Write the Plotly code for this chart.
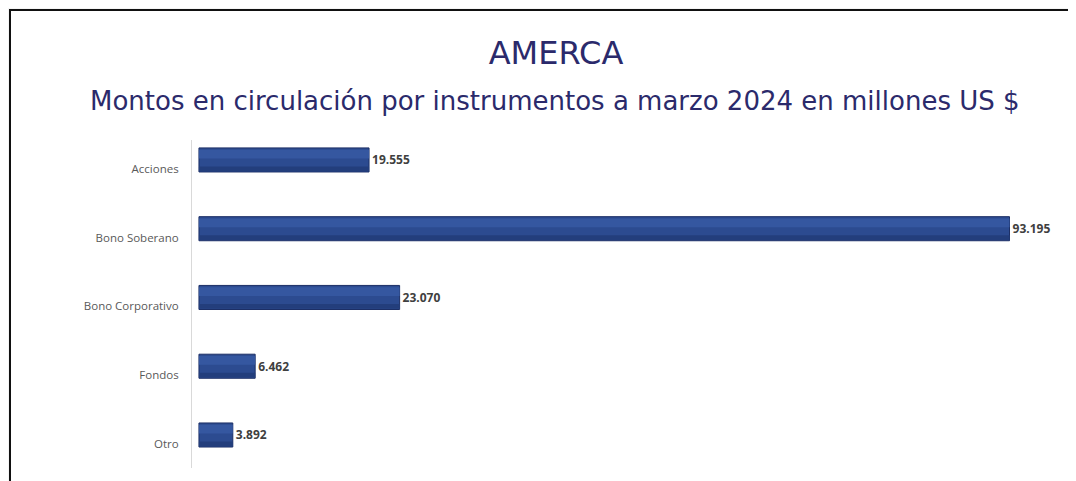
import plotly.graph_objects as go

categories = ["Acciones", "Bono Soberano", "Bono Corporativo", "Fondos", "Otro"]
values = [19.555, 93.195, 23.070, 6.462, 3.892]
value_labels = ["19.555", "93.195", "23.070", "6.462", "3.892"]

title_text = "AMERCA"
subtitle_text = "Montos en circulación por instrumentos a marzo 2024 en millones US $"

# the page body adds an 8px margin; lay out in screen pixels and compensate
OFF = 8
W, H = 1076 - OFF, 481 - OFF
L, R, T, B = 192, 1060, 140, 468          # plot area in screen pixels
pw, ph = R - L, B - T

def px_x(p):
    return (p - L) / pw

def px_y(p):
    return 1 - (p - T) / ph

BW = 0.35      # bar thickness (category units)
LIFT = 0.13    # bars sit slightly above their category label, like the 3D original

fig = go.Figure()
fig.add_trace(go.Bar(
    x=values, y=categories, orientation="h", width=BW, offset=-BW / 2 - LIFT,
    marker=dict(color="#2c4b90", line=dict(color="#1c2f66", width=1)),
    text=value_labels, textposition="outside", cliponaxis=False,
    textfont=dict(family="Open Sans, Liberation Sans, sans-serif", size=12, color="#404040", weight="bold"),
    hoverinfo="skip", showlegend=False))
fig.add_trace(go.Bar(
    x=values, y=categories, orientation="h", width=0.13, offset=-0.15 - LIFT,
    marker=dict(color="#3557a0", line=dict(width=0)),
    hoverinfo="skip", showlegend=False))
fig.add_trace(go.Bar(
    x=values, y=categories, orientation="h", width=0.07, offset=0.095 - LIFT,
    marker=dict(color="#233e7c", line=dict(width=0)),
    hoverinfo="skip", showlegend=False))

fig.update_layout(
    width=W, height=H,
    margin=dict(l=L - OFF, r=W - (R - OFF), t=T - OFF, b=H - (B - OFF), autoexpand=False),
    paper_bgcolor="#f5f5f5", plot_bgcolor="rgba(0,0,0,0)",
    barmode="overlay",
    title=dict(text=title_text, xref="container", yref="container",
               x=(556 - OFF) / W, y=1 - (53 - OFF) / H, xanchor="center", yanchor="middle",
               font=dict(family="DejaVu Sans, sans-serif", size=32, color="#2b2a6b")),
    xaxis=dict(range=[-0.8, 99], visible=False, fixedrange=True),
    yaxis=dict(range=[4.35, -0.42], showline=True, linecolor="#d9d9d9", linewidth=1,
               showgrid=False, ticks="outside", ticklen=10, tickcolor="rgba(0,0,0,0)",
               tickfont=dict(family="Open Sans, Liberation Sans, sans-serif", size=11.5, color="#595959"),
               zeroline=False, fixedrange=True),
    shapes=[dict(type="rect", xref="paper", yref="paper", layer="below",
                 x0=px_x(10), x1=px_x(1100), y0=px_y(520), y1=px_y(10),
                 fillcolor="white", line=dict(color="#111111", width=2))],
    annotations=[dict(text=subtitle_text, xref="paper", yref="paper",
                      x=px_x(555), y=px_y(101), xanchor="center", yanchor="middle",
                      showarrow=False,
                      font=dict(family="DejaVu Sans, sans-serif", size=26, color="#2b2a6b"))],
)

fig.write_html("out.html")
